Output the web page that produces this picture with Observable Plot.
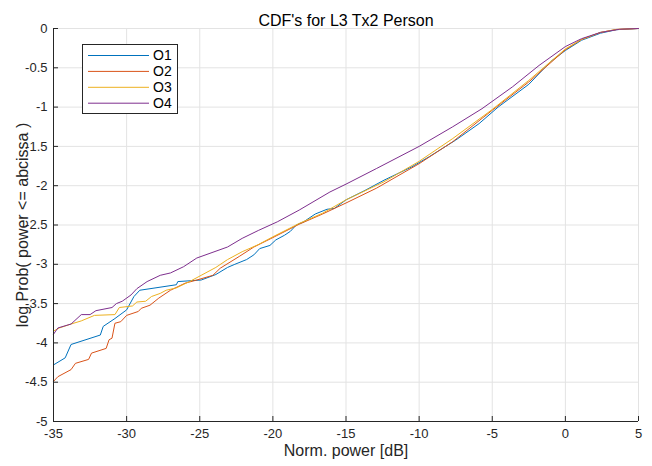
<!DOCTYPE html>
<html><head><meta charset="utf-8">
<script src="https://cdn.jsdelivr.net/npm/d3@7"></script>
<script src="https://cdn.jsdelivr.net/npm/@observablehq/plot@0.6"></script>
<style>body{margin:0;background:#fff} #chart{width:652px;height:466px}</style>
</head><body><div id="chart"></div>
<script>
const title = "CDF's for L3 Tx2 Person";
const xLabel = "Norm. power [dB]";
const yLabel = "log Prob( power <= abcissa )";
const seriesNames = ["O1", "O2", "O3", "O4"];
const seriesColors = ["#0072BD", "#D95319", "#EDB120", "#7E2F8E"];
const xTicks = [-35, -30, -25, -20, -15, -10, -5, 0, 5];
const yTicks = [-5, -4.5, -4, -3.5, -3, -2.5, -2, -1.5, -1, -0.5, 0];

const o1 = [[-35,-4.28],[-34.2,-4.19],[-33.8,-4.02],[-31.8,-3.90],[-31.6,-3.79],[-30.8,-3.69],[-30.0,-3.58],[-29.5,-3.41],[-29.1,-3.33],[-26.6,-3.26],[-26.5,-3.22],[-24.9,-3.20],[-23.9,-3.13],[-23.1,-3.04],[-22.6,-3.00],[-21.8,-2.94],[-21.3,-2.88],[-20.9,-2.80],[-20.2,-2.76],[-19.8,-2.69],[-19.2,-2.63],[-18.8,-2.58],[-18.4,-2.50],[-17.9,-2.46],[-17.1,-2.36],[-16.3,-2.30],[-15.8,-2.29],[-15.0,-2.18],[-13.7,-2.06],[-12.4,-1.93],[-10.5,-1.76],[-9.3,-1.63],[-7.5,-1.42],[-5.9,-1.21],[-4.6,-1.00],[-2.5,-0.71],[-1.0,-0.42],[0,-0.28],[1.1,-0.15],[2.4,-0.06],[3.5,-0.015],[5,0]];
const o2 = [[-35,-4.49],[-34.7,-4.43],[-33.8,-4.34],[-33.5,-4.26],[-32.6,-4.21],[-32.4,-4.13],[-31.4,-4.07],[-31.2,-3.96],[-31.0,-3.94],[-30.8,-3.75],[-30.4,-3.73],[-30.0,-3.65],[-29.2,-3.60],[-29.0,-3.56],[-28.4,-3.52],[-27.8,-3.43],[-27.0,-3.33],[-26.0,-3.24],[-25.2,-3.20],[-24.1,-3.14],[-23.6,-3.05],[-22.3,-2.90],[-21.3,-2.78],[-20.0,-2.66],[-18.2,-2.49],[-16.6,-2.36],[-15.0,-2.22],[-12.9,-2.03],[-10,-1.72],[-7.7,-1.44],[-5.0,-1.04],[-2.5,-0.68],[0,-0.27],[1.1,-0.14],[2.4,-0.05],[3.5,-0.012],[5,0]];
const o3 = [[-35,-3.85],[-34.6,-3.81],[-33.8,-3.76],[-33.1,-3.72],[-32.2,-3.65],[-30.8,-3.64],[-30.5,-3.55],[-29.6,-3.53],[-29.3,-3.48],[-28.7,-3.47],[-28.3,-3.41],[-27.7,-3.37],[-27.3,-3.33],[-26.6,-3.30],[-25.7,-3.22],[-24.9,-3.14],[-23.9,-3.04],[-23.1,-2.94],[-22.1,-2.84],[-21.0,-2.75],[-20.0,-2.65],[-18.2,-2.48],[-16.6,-2.35],[-15.0,-2.18],[-12.4,-1.95],[-10,-1.69],[-7.7,-1.40],[-5.0,-1.03],[-2.5,-0.66],[0,-0.26],[1.1,-0.14],[2.4,-0.05],[3.5,-0.012],[5,0]];
const o4 = [[-35,-3.89],[-34.7,-3.81],[-33.8,-3.76],[-33.1,-3.64],[-32.5,-3.64],[-32.1,-3.59],[-31.0,-3.55],[-30.7,-3.50],[-30.3,-3.47],[-29.7,-3.39],[-29.3,-3.31],[-28.6,-3.22],[-27.7,-3.14],[-27.0,-3.11],[-26.1,-3.03],[-25.2,-2.92],[-24.3,-2.86],[-23.1,-2.78],[-22.1,-2.67],[-21.0,-2.57],[-19.7,-2.46],[-18.2,-2.31],[-16.1,-2.08],[-15.0,-1.98],[-12.9,-1.78],[-10,-1.50],[-7.7,-1.25],[-5.7,-1.02],[-3.6,-0.74],[-1.8,-0.47],[0,-0.23],[1.1,-0.13],[2.4,-0.05],[3.7,-0.01],[5,0]];

const seriesData = [o1, o2, o3, o4];
const rows = seriesData.flatMap((arr, i) => arr.map(([x, y]) => ({x, y, s: seriesNames[i]})));

const W = 652, H = 466, mL = 53, mR = 14, mT = 28, mB = 45;
const axisColor = "#262626";
const gridColor = "#e3e3e3";
const font = "'Liberation Sans', Arial, Helvetica, sans-serif";

const plot = Plot.plot({
  width: W, height: H,
  marginLeft: mL, marginRight: mR, marginTop: mT, marginBottom: mB,
  style: {fontFamily: font, fontSize: "13px", background: "#fff", color: axisColor},
  x: {domain: [-35, 5], label: null},
  y: {domain: [-5, 0], label: null},
  color: {domain: seriesNames, range: seriesColors},
  marks: [
    Plot.gridX(xTicks, {stroke: gridColor, strokeOpacity: 1}),
    Plot.gridY(yTicks, {stroke: gridColor, strokeOpacity: 1}),
    Plot.line(rows, {x: "x", y: "y", z: "s", stroke: "s", strokeWidth: 1}),
    Plot.ruleX([-35], {stroke: axisColor}),
    Plot.ruleY([-5], {stroke: axisColor}),
    Plot.ruleX(xTicks, {stroke: axisColor, insetTop: H - mT - mB - 5}),
    Plot.ruleY(yTicks, {stroke: axisColor, insetRight: W - mL - mR - 5}),
    Plot.axisX(xTicks, {tickSize: 0, tickPadding: 7, fontSize: 13, tickFormat: d => String(d), label: null}),
    Plot.axisY(yTicks, {tickSize: 0, tickPadding: 6, fontSize: 13, tickFormat: d => String(d), label: null}),
    Plot.text([title], {frameAnchor: "top", dy: -14, fontSize: 16, fill: "#000"}),
    Plot.text([xLabel], {frameAnchor: "bottom", dy: 34, fontSize: 16, fill: axisColor}),
    Plot.text([yLabel], {frameAnchor: "left", textAnchor: "middle", dx: -31, rotate: -90, fontSize: 16, fill: axisColor})
  ]
});

// legend box
const svg = d3.select(plot);
const lg = svg.append("g").attr("font-family", font).attr("font-size", 14).attr("text-anchor", "start");
lg.append("rect").attr("x", 82.5).attr("y", 44.5).attr("width", 95).attr("height", 69)
  .attr("fill", "#fff").attr("stroke", axisColor).attr("stroke-width", 1);
seriesNames.forEach((name, i) => {
  const yy = 55.5 + i * 15.9;
  lg.append("line").attr("x1", 88).attr("x2", 149).attr("y1", yy).attr("y2", yy)
    .attr("stroke", seriesColors[i]).attr("stroke-width", 1);
  lg.append("text").attr("x", 153).attr("y", yy).attr("dy", "0.35em").attr("fill", "#000").text(name);
});

document.getElementById("chart").appendChild(plot);
</script>
</body></html>
